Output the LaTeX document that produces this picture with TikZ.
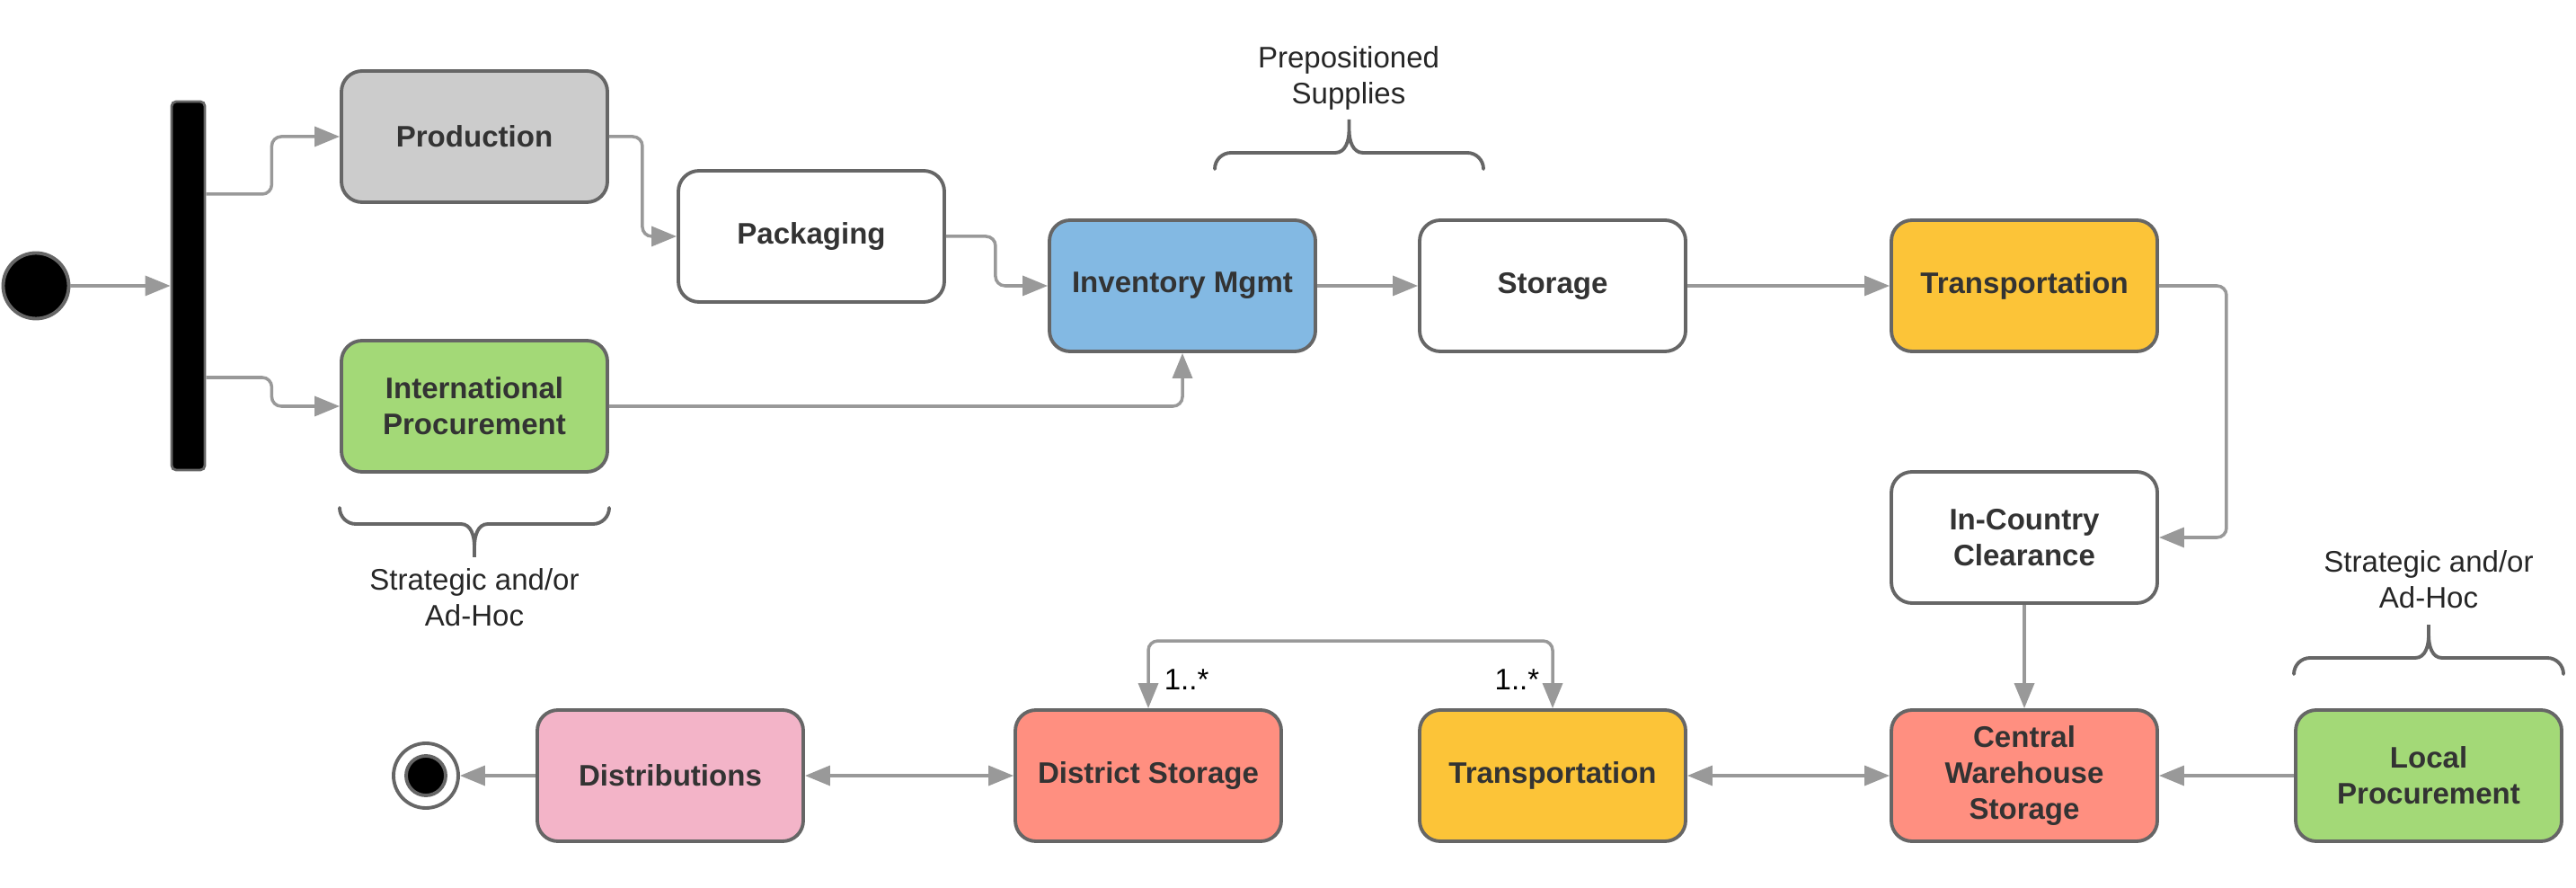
\documentclass[tikz,border=0pt]{standalone}
\usepackage{fontspec}
\setmainfont{Liberation Sans}
\usetikzlibrary{positioning,arrows.meta}
\definecolor{edgegray}{HTML}{999999}
\definecolor{boxgray}{HTML}{666666}
\definecolor{txtgray}{HTML}{333333}
\definecolor{fillgray}{HTML}{CCCCCC}
\definecolor{fillgreen}{HTML}{A3D977}
\definecolor{fillblue}{HTML}{83B9E3}
\definecolor{fillyellow}{HTML}{FCC438}
\definecolor{fillred}{HTML}{FF8F80}
\definecolor{fillpink}{HTML}{F3B4C8}
\def\boxfont{\fontsize{9.4}{11.3}\selectfont\bfseries}
\def\notefont{\fontsize{9.4}{11.3}\selectfont}

\begin{document}
\begin{tikzpicture}[on grid,>={Triangle[length=2.8mm,width=2.2mm]},
	activity/.style={draw=boxgray,line width=1.1pt,rounded corners=0.23cm,minimum width=2.96cm,minimum height=1.46cm,align=center,text=txtgray,font=\boxfont},
	flow/.style={draw=edgegray,line width=1pt,rounded corners=3pt,->},
	note/.style={align=center,text=black!85,font=\notefont,inner sep=0pt},
	curly/.style={draw=boxgray,line width=1.1pt,line cap=round},
	mult/.style={text=black,font=\notefont,inner sep=0pt}]
\useasboundingbox (0,0) rectangle (28.67,-9.88);
\node[circle,fill=black,draw=boxgray,line width=1.1pt,minimum size=0.73cm]								(a_start)		at (0.40,-3.18)								{};
\node[rectangle,fill=black,draw=boxgray,line width=0.8pt,rounded corners=0.05cm,minimum width=0.37cm,minimum height=4.1cm,inner sep=0pt]	(a_fork)		[right=1.695 of a_start]					{};
\node[activity,fill=fillgray]			(a_prod)		[above right=1.66 and 3.185 of a_fork]		{Production};
\node[activity,fill=fillgreen]			(a_intl)		[below=3 of a_prod]							{International\\Procurement};
\node[activity,fill=white]				(a_pack)		[below right=1.11 and 3.75 of a_prod]		{Packaging};
\node[activity,fill=fillblue]			(a_inv)			[below right=0.55 and 4.13 of a_pack]		{Inventory Mgmt};
\node[activity,fill=white]				(a_stor)		[right=4.12 of a_inv]						{Storage};
\node[activity,fill=fillyellow]			(a_trans)		[right=5.25 of a_stor]						{Transportation};
\node[activity,fill=white]				(a_clear)		[below=2.8 of a_trans]						{In-Country\\Clearance};
\node[activity,fill=fillred]			(a_central)		[below=2.65 of a_clear]						{Central\\Warehouse\\Storage};
\node[activity,fill=fillgreen]			(a_local)		[right=4.5 of a_central]					{Local\\Procurement};
\node[activity,fill=fillyellow]			(a_haul)		[left=5.25 of a_central]					{Transportation};
\node[activity,fill=fillred]			(a_district)	[left=4.5 of a_haul]						{District Storage};
\node[activity,fill=fillpink]			(a_distr)		[left=5.32 of a_district]					{Distributions};
\node[circle,draw=boxgray,line width=1.1pt,fill=white,minimum size=0.72cm]	(a_end)		[left=2.72 of a_distr]						{};
\node[circle,draw=boxgray,line width=1.1pt,fill=black,minimum size=0.44cm]	(a_endin)	at (a_end)									{};

\node[note]								(n_prepos)		[above right=2.31 and 1.85 of a_inv]		{Prepositioned\\Supplies};
\node[note]								(n_intl)		[below=2.13 of a_intl]						{Strategic and/or\\Ad-Hoc};
\node[note]								(n_local)		[above=2.18 of a_local]						{Strategic and/or\\Ad-Hoc};

\draw[flow]		(a_start)	--	(a_fork);
\draw[flow]		([yshift=1.02cm]a_fork.east)	-- ++(0.73,0)	|- (a_prod);
\draw[flow]		([yshift=-1.02cm]a_fork.east)	-- ++(0.73,0)	|- (a_intl);
\draw[flow]		(a_prod.east)	-- ++(0.37,0)	|- (a_pack);
\draw[flow]		(a_pack.east)	-- ++(0.55,0)	|- (a_inv);
\draw[flow]		(a_intl)	-|	(a_inv);
\draw[flow]		(a_inv)		--	(a_stor);
\draw[flow]		(a_stor)	--	(a_trans);
\draw[flow]		(a_trans.east)	-- ++(0.75,0)	|- (a_clear);
\draw[flow]		(a_clear)	--	(a_central);
\draw[flow]		(a_local)	--	(a_central);
\draw[flow,<->]	(a_haul)	--	(a_central);
\draw[flow,<->]	(a_distr)	--	(a_district);
\draw[flow]		(a_distr)	--	(a_end);
\draw[flow,<->]	(a_district.north)	node[mult,anchor=south west,xshift=0.16cm,yshift=0.19cm]	{1..*}
				-- ++(0,0.75)	-| (a_haul.north)	node[mult,anchor=south east,xshift=-0.13cm,yshift=0.19cm]	{1..*};

\draw[curly]	(13.52,-1.88) arc[start angle=180,end angle=90,radius=0.18] -- (14.86,-1.70) to[out=0,in=-90] (15.015,-1.45) -- (15.015,-1.33)
				-- (15.015,-1.45) to[out=-90,in=180] (15.17,-1.70) -- (16.33,-1.70) arc[start angle=90,end angle=0,radius=0.18];
\draw[curly]	(3.78,-5.65) arc[start angle=180,end angle=270,radius=0.18] -- (5.13,-5.83) to[out=0,in=90] (5.28,-6.08) -- (5.28,-6.20)
				-- (5.28,-6.08) to[out=90,in=180] (5.43,-5.83) -- (6.60,-5.83) arc[start angle=270,end angle=360,radius=0.18];
\draw[curly]	(25.53,-7.50) arc[start angle=180,end angle=90,radius=0.18] -- (26.88,-7.32) to[out=0,in=-90] (27.03,-7.07) -- (27.03,-6.95)
				-- (27.03,-7.07) to[out=-90,in=180] (27.18,-7.32) -- (28.35,-7.32) arc[start angle=90,end angle=0,radius=0.18];
\end{tikzpicture}
\end{document}
